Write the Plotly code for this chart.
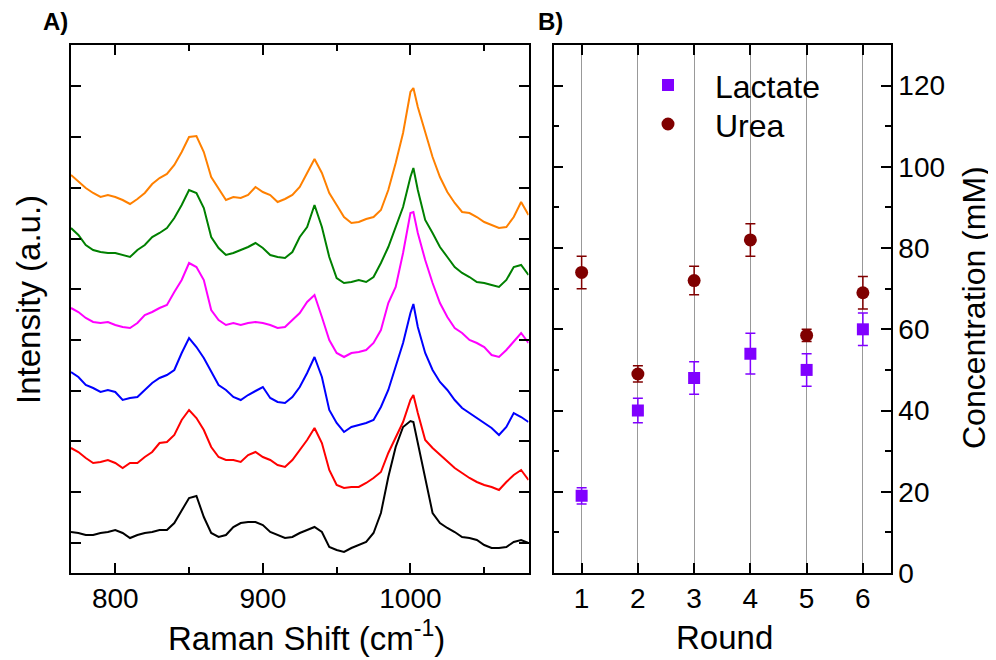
import plotly.graph_objects as go

# Raman spectra (offset for display), a.u.
wavenumber = [770, 775, 780, 785, 790, 795, 800, 805, 810, 815, 820, 825, 830, 835, 840,
              845, 850, 855, 860, 865, 870, 875, 880, 885, 890, 895, 900, 905, 910, 915,
              920, 925, 930, 935, 940, 945, 950, 955, 960, 965, 970, 975, 980, 985, 990,
              995, 1000, 1002, 1005, 1010, 1015, 1020, 1025, 1030, 1035, 1040, 1045, 1050,
              1055, 1060, 1065, 1070, 1075, 1080]

spec_black = [41, 40, 38, 38, 40, 41, 43, 40, 35, 38, 40, 41, 43, 43, 50,
              63, 75, 77, 56, 40, 36, 38, 46, 50, 51, 51, 48, 41, 38, 35,
              36, 40, 43, 46, 41, 26, 23, 21, 25, 28, 31, 40, 60, 96, 126,
              146, 152, 151, 130, 93, 60, 50, 45, 41, 36, 35, 33, 28,
              25, 25, 26, 31, 33, 30]
spec_red = [125, 121, 115, 110, 111, 113, 110, 105, 110, 110, 116, 121, 130, 131, 138,
            153, 163, 155, 143, 126, 116, 113, 113, 111, 118, 121, 116, 113, 108, 106,
            113, 123, 133, 145, 130, 103, 88, 85, 86, 86, 90, 95, 101, 120, 136,
            151, 173, 178, 160, 133, 125, 118, 111, 105, 100, 95, 91, 88,
            86, 83, 91, 98, 103, 93]
spec_blue = [201, 196, 188, 185, 181, 183, 181, 173, 175, 176, 183, 190, 195, 198, 203,
             220, 235, 226, 215, 201, 188, 183, 176, 173, 178, 182, 186, 175, 171, 170,
             176, 186, 200, 216, 196, 163, 150, 141, 146, 148, 150, 153, 166, 183, 206,
             230, 260, 269, 246, 220, 203, 191, 183, 173, 165, 160, 155, 150,
             145, 138, 146, 160, 156, 151]
spec_magenta = [265, 261, 255, 251, 250, 251, 248, 246, 245, 250, 258, 261, 265, 268, 281,
                293, 310, 306, 293, 263, 253, 248, 250, 248, 250, 251, 250, 248, 245, 246,
                253, 260, 271, 278, 256, 233, 220, 216, 220, 221, 223, 230, 243, 270, 286,
                320, 360, 361, 340, 313, 290, 270, 256, 245, 240, 233, 230, 226,
                218, 216, 223, 231, 240, 230]
spec_green = [345, 338, 328, 323, 321, 320, 320, 318, 316, 323, 328, 336, 340, 345, 355,
              368, 383, 380, 365, 336, 325, 318, 320, 323, 326, 330, 325, 318, 316, 315,
              321, 336, 346, 368, 346, 316, 295, 290, 291, 293, 291, 296, 310, 326, 346,
              366, 396, 405, 383, 353, 340, 326, 316, 306, 300, 296, 291, 290,
              288, 286, 293, 306, 308, 298]
spec_orange = [398, 391, 385, 380, 376, 378, 376, 373, 369, 374, 380, 389, 395, 399, 408,
               421, 436, 437, 421, 396, 385, 373, 376, 375, 378, 386, 381, 378, 371, 374,
               378, 386, 400, 414, 400, 380, 368, 356, 350, 351, 354, 356, 363, 383, 410,
               440, 481, 485, 466, 440, 416, 396, 381, 370, 361, 360, 356, 351,
               348, 345, 346, 356, 371, 358]

spectra = [spec_black, spec_red, spec_blue, spec_magenta, spec_green, spec_orange]
spec_colors = ["#000000", "#FF0000", "#0000FF", "#FF00FF", "#008000", "#FF8000"]

# Concentrations per round (mM)
rounds = [1, 2, 3, 4, 5, 6]
lactate = [19, 40, 48, 54, 50, 60]
lactate_err = [2, 3, 4, 5, 4, 4]
urea = [74, 49, 72, 82, 58.5, 69]
urea_err = [4, 2, 3.5, 4, 1.5, 4]

LACTATE_COLOR = "#8000FF"
UREA_COLOR = "#800000"
FONT = "Arial, Liberation Sans, sans-serif"

# page body adds an 8 px margin, so the figure is 8 px smaller each way
W, H = 988, 652


def px(x):
    return x / W


def py(y):
    return (H - y) / H


fig = go.Figure()

for ys, col in zip(spectra, spec_colors):
    fig.add_trace(go.Scatter(
        x=wavenumber, y=ys, mode="lines",
        line=dict(color=col, width=2),
        showlegend=False, xaxis="x", yaxis="y",
    ))

fig.add_trace(go.Scatter(
    x=rounds, y=lactate, mode="markers", name="Lactate", showlegend=False,
    marker=dict(symbol="square", size=12, color=LACTATE_COLOR),
    error_y=dict(type="data", array=lactate_err, color=LACTATE_COLOR, thickness=1.5, width=5),
    xaxis="x2", yaxis="y2",
))
fig.add_trace(go.Scatter(
    x=rounds, y=urea, mode="markers", name="Urea", showlegend=False,
    marker=dict(symbol="circle", size=13, color=UREA_COLOR),
    error_y=dict(type="data", array=urea_err, color=UREA_COLOR, thickness=1.5, width=5),
    xaxis="x2", yaxis="y2",
))

frame = dict(showline=True, linecolor="black", linewidth=1.5, mirror="ticks",
             ticks="inside", tickcolor="black", tickwidth=1.5, zeroline=False,
             automargin=False)
ydom = [py(565), py(37)]

fig.update_layout(
    width=W, height=H,
    margin=dict(l=0, r=0, t=0, b=0),
    paper_bgcolor="white", plot_bgcolor="white",
    font=dict(family=FONT, size=28, color="black"),
    showlegend=False,
    xaxis=dict(domain=[px(63), px(520.5)], range=[770, 1080], anchor="y",
               tickvals=[800, 900, 1000], ticklen=10, showgrid=False,
               minor=dict(tickvals=[850, 950, 1050], ticklen=6, ticks="inside",
                          tickcolor="black", tickwidth=1.5),
               tickfont=dict(size=28), **frame),
    yaxis=dict(domain=ydom, range=[0, 528], anchor="x",
               tick0=30.3, dtick=50.7, ticklen=10, showticklabels=False,
               showgrid=False, **frame),
    xaxis2=dict(domain=[px(545.5), px(883)], range=[0.5, 6.5], anchor="y2",
                tickvals=rounds, ticklen=10, showgrid=True, gridcolor="#999999",
                gridwidth=1, tickfont=dict(size=28), **frame),
    yaxis2=dict(domain=ydom, range=[0, 130], anchor="x2",
                side="right", tickvals=[0, 20, 40, 60, 80, 100, 120], ticklen=10,
                minor=dict(tickvals=[10, 30, 50, 70, 90, 110], ticklen=6,
                           ticks="inside", tickcolor="black", tickwidth=1.5),
                showgrid=False, tickfont=dict(size=28), **frame),
)

# legend drawn by hand so that the symbol/text spacing matches
fig.add_shape(type="rect", xref="paper", yref="paper",
              x0=px(654), x1=px(666), y0=py(83), y1=py(71),
              fillcolor=LACTATE_COLOR, line=dict(width=0))
fig.add_shape(type="circle", xref="paper", yref="paper",
              x0=px(653.5), x1=px(666.5), y0=py(122.5), y1=py(109.5),
              fillcolor=UREA_COLOR, line=dict(width=0))

texts = [
    dict(text="Lactate", x=705, y=79, anchor="left", size=32, angle=0),
    dict(text="Urea", x=705, y=118, anchor="left", size=32, angle=0),
    dict(text="<b>A)</b>", x=47, y=14, anchor="center", size=24, angle=0),
    dict(text="<b>B)</b>", x=542, y=14, anchor="center", size=24, angle=0),
    dict(text="Intensity (a.u.)", x=20, y=292, anchor="center", size=33, angle=-90),
    dict(text="Raman Shift (cm<sup>-1</sup>)", x=298, y=628, anchor="center", size=33, angle=0),
    dict(text="Round", x=716, y=629, anchor="center", size=33, angle=0),
    dict(text="Concentration (mM)", x=966, y=300, anchor="center", size=32, angle=-90),
]
for t in texts:
    fig.add_annotation(text=t["text"], x=px(t["x"]), y=py(t["y"]),
                       xref="paper", yref="paper", showarrow=False,
                       xanchor=t["anchor"], yanchor="middle", textangle=t["angle"],
                       font=dict(size=t["size"], family=FONT, color="black"))

fig.write_html("out.html")
